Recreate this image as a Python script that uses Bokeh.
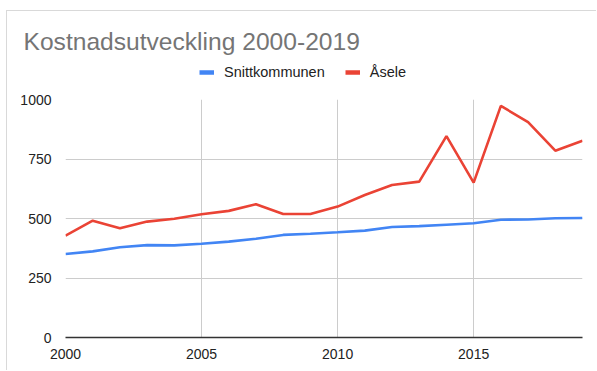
import math
from bokeh.plotting import figure
from bokeh.layouts import column
from bokeh.models import Legend, LegendItem, FixedTicker, Range1d, Title
from bokeh.embed import file_html
from bokeh.resources import INLINE

years = list(range(2000, 2020))
snittkommunen = [351, 362, 379, 388, 387, 394, 403, 415, 431, 436,
                 442, 449, 464, 468, 474, 480, 495, 496, 501, 502]
asele = [428, 491, 459, 487, 499, 518, 532, 560, 519, 519,
         550, 599, 641, 655, 846, 651, 973, 905, 785, 827]
x_ticks = [2000, 2005, 2010, 2015]
y_ticks = [0, 250, 500, 750, 1000]
series_names = ["Snittkommunen", "Åsele"]
colors = ["#4285F4", "#EA4335"]
title_text = "Kostnadsutveckling 2000-2019"

FONT = "Liberation Sans"
W = 596
TOP_H = 85
MAIN_H = 285

# ---- header figure: title + legend ----
head = figure(width=W, height=TOP_H, output_backend="svg", toolbar_location=None,
              x_range=Range1d(0, 1), y_range=Range1d(0, 1),
              x_axis_type=None, y_axis_type=None,
              min_border_left=65, min_border_right=14,
              min_border_top=60, min_border_bottom=0)
head.outline_line_color = None
head.grid.visible = False
head.background_fill_alpha = 0
head.border_fill_alpha = 0

head.add_layout(Title(text=title_text, text_font=FONT, text_font_size="24.6px",
                      text_font_style="normal", text_color="#757575",
                      align="left", offset=-42, standoff=12), "above")

nanx = [math.nan]
l1 = head.line(nanx, nanx, line_color=colors[0], line_width=4.5)
l2 = head.line(nanx, nanx, line_color=colors[1], line_width=4.5)
legend = Legend(items=[LegendItem(label=series_names[0], renderers=[l1]),
                       LegendItem(label=series_names[1], renderers=[l2])],
                orientation="horizontal", location=(134, 5),
                label_text_font=FONT, label_text_font_size="14.5px",
                label_text_color="#222222", glyph_width=15, glyph_height=10,
                label_standoff=10, spacing=20, border_line_color=None,
                background_fill_alpha=0, padding=0, margin=0)
head.add_layout(legend, "center")

# ---- main chart ----
p = figure(width=W, height=MAIN_H, output_backend="svg", toolbar_location=None,
           x_range=Range1d(2000, 2019), y_range=Range1d(0, 1000),
           min_border_left=65, min_border_right=14, min_border_top=14,
           min_border_bottom=33)
p.outline_line_color = None
p.background_fill_color = "white"
p.border_fill_alpha = 0

p.line(years, snittkommunen, line_color=colors[0], line_width=2.6)
p.line(years, asele, line_color=colors[1], line_width=2.6)

p.xaxis.ticker = FixedTicker(ticks=x_ticks)
p.yaxis.ticker = FixedTicker(ticks=y_ticks)
p.xgrid.ticker = FixedTicker(ticks=x_ticks)
p.ygrid.ticker = FixedTicker(ticks=y_ticks)
p.xgrid.grid_line_color = "#cccccc"
p.ygrid.grid_line_color = "#cccccc"

for ax in (p.xaxis[0], p.yaxis[0]):
    ax.major_tick_line_color = None
    ax.minor_tick_line_color = None
    ax.major_label_text_font = FONT
    ax.major_label_text_font_size = "14px"
    ax.major_label_text_color = "#222222"
p.yaxis.axis_line_color = None
p.xaxis.axis_line_color = "#333333"
p.xaxis.axis_line_width = 1.5
p.xaxis.major_label_standoff = 5
p.yaxis.major_label_standoff = 8

layout = column(head, p, spacing=0)
layout.styles = {
    "background": "linear-gradient(#d9d9d9,#d9d9d9) 6px 10px / 1px 100% no-repeat, "
                  "linear-gradient(#d9d9d9,#d9d9d9) 6px 10px / 100% 1px no-repeat, white"
}

open("out.html", "w").write(file_html(layout, INLINE))
